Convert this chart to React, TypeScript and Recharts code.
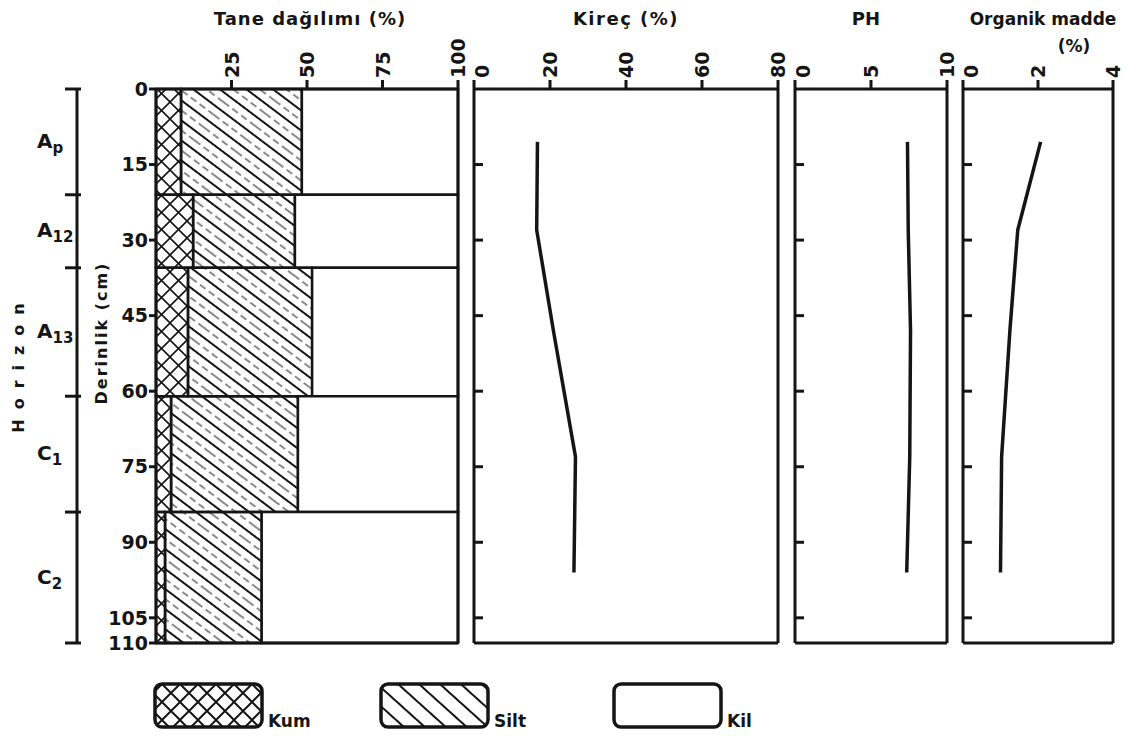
import React from "react";
import { ComposedChart, LineChart, Line, XAxis, YAxis, ReferenceArea } from "recharts";

const INK = "#151515";
const FONT = "'DejaVu Sans', 'Liberation Sans', sans-serif";

// horizons, depth in cm
const horizons = ["Ap", "A12", "A13", "C1", "C2"];
const horizonTop = [0, 21, 35.5, 61, 84];
const horizonBottom = [21, 35.5, 61, 84, 110];

// tane dağılımı (%)
const kum = [8.3, 12.3, 10.6, 5, 3];
const silt = [40, 33.7, 41.1, 42, 32];
const kil = [51.7, 54, 48.3, 53, 65];

// profile measurements
const depth = [10.5, 28, 48, 73, 96];
const kirec = [16.7, 16.5, 20.9, 26.7, 26.3];
const ph = [7.4, 7.45, 7.6, 7.55, 7.35];
const organik = [2.07, 1.46, 1.25, 1.03, 1.0];

// tick labels
const depthTicks = [0, 15, 30, 45, 60, 75, 90, 105, 110];
const innerDepthTicks = [15, 30, 45, 60, 75, 90, 105];
const taneTicks = [25, 50, 75, 100];
const kirecTicks = [0, 20, 40, 60, 80];
const phTicks = [0, 5, 10];
const organikTicks = [0, 2, 4];

const legendItems = [
  { name: "Kum", fill: "url(#kumLeg)" },
  { name: "Silt", fill: "url(#siltLeg)" },
  { name: "Kil", fill: "#fff" },
];

const texture = horizons.map((h, i) => ({
  name: h,
  top: horizonTop[i],
  bottom: horizonBottom[i],
  mid: (horizonTop[i] + horizonBottom[i]) / 2,
  kum: kum[i],
  silt: silt[i],
  kil: kil[i],
}));

const profile = depth.map((d, i) => ({
  depth: d,
  kirec: kirec[i],
  ph: ph[i],
  organik: organik[i],
}));

const horizonBounds = [...horizonTop, 110];
const horizonMids = texture.map((r) => r.mid);

const axisStyle = { stroke: INK, strokeWidth: 3 };
const tickStyle = { stroke: INK, strokeWidth: 3 };

function TopTick(props: any) {
  const { x, y, payload } = props;
  const v = payload.value;
  const tx = v === 0 ? x + 8 : x;
  return (
    <text
      x={tx}
      y={y}
      transform={`rotate(-90, ${tx}, ${y})`}
      textAnchor="start"
      dominantBaseline="central"
      fontFamily={FONT}
      fontWeight="bold"
      fontSize={19}
      fill={INK}
    >
      {v}
    </text>
  );
}

function NoTick() {
  return <g />;
}

function HorizonTick(props: any) {
  const { x, y, payload } = props;
  const idx = horizonMids.indexOf(payload.value);
  if (idx < 0) {
    return <line x1={x - 12} x2={x + 4} y1={y} y2={y} stroke={INK} strokeWidth={3} />;
  }
  const name = horizons[idx];
  return (
    <text x={x - 40} y={y + 6} fontFamily={FONT} fontWeight="bold" fill={INK}>
      <tspan fontSize={20}>{name[0]}</tspan>
      <tspan fontSize={15} dy={5}>
        {name.slice(1)}
      </tspan>
    </text>
  );
}

function LinePanel({ left, width, domain, ticks, dataKey }: any) {
  return (
    <div style={{ position: "absolute", left, top: 0 }}>
      <LineChart
        width={width}
        height={660}
        layout="vertical"
        data={profile}
        margin={{ top: 0, right: 10, bottom: 17, left: 10 }}
      >
        <XAxis
          xAxisId="top"
          orientation="top"
          type="number"
          domain={domain}
          ticks={ticks}
          interval={0}
          height={89}
          tickSize={9}
          tickMargin={2}
          axisLine={axisStyle}
          tickLine={tickStyle}
          tick={<TopTick />}
        />
        <XAxis
          xAxisId="bottom"
          orientation="bottom"
          type="number"
          domain={domain}
          mirror
          tick={false}
          tickLine={false}
          axisLine={axisStyle}
        />
        <YAxis
          yAxisId="depth"
          type="number"
          dataKey="depth"
          domain={[0, 110]}
          ticks={innerDepthTicks}
          interval={0}
          mirror
          tickSize={9}
          axisLine={axisStyle}
          tickLine={tickStyle}
          tick={<NoTick />}
        />
        <YAxis
          yAxisId="right"
          orientation="right"
          type="number"
          domain={[0, 110]}
          mirror
          tick={false}
          tickLine={false}
          axisLine={axisStyle}
        />
        <Line
          xAxisId="top"
          yAxisId="depth"
          dataKey={dataKey}
          stroke={INK}
          strokeWidth={3.5}
          strokeLinejoin="round"
          dot={false}
          isAnimationActive={false}
        />
      </LineChart>
    </div>
  );
}

export default function App() {
  const areas = texture.flatMap((r, i) => {
    const parts = [
      { x1: 0, x2: r.kum, fill: "url(#kumPat)" },
      { x1: r.kum, x2: r.kum + r.silt, fill: "url(#siltPat)" },
      { x1: r.kum + r.silt, x2: r.kum + r.silt + r.kil, fill: "#fff" },
    ];
    return parts.map((p, j) => (
      <ReferenceArea
        key={`${i}-${j}`}
        xAxisId="top"
        yAxisId="depth"
        x1={p.x1}
        x2={p.x2}
        y1={r.top}
        y2={r.bottom}
        fill={p.fill}
        fillOpacity={1}
        stroke={INK}
        strokeWidth={2.5}
        ifOverflow="visible"
      />
    ));
  });

  return (
    <div
      style={{
        position: "absolute",
        left: 0,
        top: 0,
        width: 1128,
        height: 736,
        background: "#fff",
        overflow: "hidden",
      }}
    >
      <svg width={0} height={0} style={{ position: "absolute" }}>
        <defs>
          <pattern id="kumPat" patternUnits="userSpaceOnUse" width={17} height={17}>
            <path d="M0,0 L17,17 M17,0 L0,17" stroke={INK} strokeWidth={1.6} />
          </pattern>
          <pattern
            id="siltPat"
            patternUnits="userSpaceOnUse"
            width={40}
            height={16}
            patternTransform="rotate(37)"
          >
            <line x1={0} y1={3} x2={40} y2={3} stroke={INK} strokeWidth={1.8} />
            <line x1={0} y1={11} x2={40} y2={11} stroke={INK} strokeWidth={1} strokeDasharray="7 4" />
          </pattern>
          <pattern id="kumLeg" patternUnits="userSpaceOnUse" width={18} height={18}>
            <path d="M0,0 L18,18 M18,0 L0,18" stroke={INK} strokeWidth={2} />
          </pattern>
          <pattern
            id="siltLeg"
            patternUnits="userSpaceOnUse"
            width={30}
            height={14}
            patternTransform="rotate(42)"
          >
            <line x1={0} y1={4} x2={30} y2={4} stroke={INK} strokeWidth={2} />
          </pattern>
        </defs>
      </svg>

      {/* horizon bracket */}
      <div style={{ position: "absolute", left: 0, top: 0 }}>
        <ComposedChart
          width={90}
          height={660}
          layout="vertical"
          data={texture}
          margin={{ top: 89, right: 8, bottom: 17, left: 0 }}
        >
          <XAxis type="number" domain={[0, 1]} hide />
          <YAxis
            type="number"
            dataKey="mid"
            domain={[0, 110]}
            ticks={[...horizonBounds, ...horizonMids]}
            interval={0}
            width={77}
            tickSize={0}
            tickMargin={0}
            tickLine={false}
            axisLine={axisStyle}
            tick={<HorizonTick />}
          />
          <Line dataKey={() => 0} stroke="none" dot={false} isAnimationActive={false} />
        </ComposedChart>
      </div>

      {/* Tane dağılımı */}
      <div style={{ position: "absolute", left: 0, top: 0 }}>
        <ComposedChart
          width={470}
          height={660}
          layout="vertical"
          data={texture}
          margin={{ top: 0, right: 12, bottom: 17, left: 0 }}
        >
          <XAxis
            xAxisId="top"
            orientation="top"
            type="number"
            domain={[0, 100]}
            ticks={taneTicks}
            interval={0}
            height={89}
            tickSize={9}
            tickMargin={2}
            axisLine={axisStyle}
            tickLine={tickStyle}
            tick={<TopTick />}
          />
          <XAxis
            xAxisId="bottom"
            orientation="bottom"
            type="number"
            domain={[0, 100]}
            mirror
            tick={false}
            tickLine={false}
            axisLine={axisStyle}
          />
          <YAxis
            yAxisId="depth"
            type="number"
            dataKey="mid"
            domain={[0, 110]}
            ticks={depthTicks}
            interval={0}
            width={156}
            tickSize={7}
            tickMargin={1}
            axisLine={axisStyle}
            tickLine={tickStyle}
            tick={{ fontFamily: FONT, fontWeight: "bold", fontSize: 19, fill: INK }}
          />
          <YAxis
            yAxisId="right"
            orientation="right"
            type="number"
            domain={[0, 110]}
            mirror
            tick={false}
            tickLine={false}
            axisLine={axisStyle}
          />
          {areas}
          <Line
            xAxisId="top"
            yAxisId="depth"
            dataKey="kum"
            stroke="none"
            dot={false}
            isAnimationActive={false}
          />
        </ComposedChart>
      </div>

      <LinePanel left={464} width={324} domain={[0, 80]} ticks={kirecTicks} dataKey="kirec" />
      <LinePanel left={785} width={172} domain={[0, 10]} ticks={phTicks} dataKey="ph" />
      <LinePanel left={953} width={170} domain={[0, 4]} ticks={organikTicks} dataKey="organik" />

      {/* titles, side labels and legend */}
      <svg
        width={1128}
        height={736}
        style={{ position: "absolute", left: 0, top: 0, pointerEvents: "none" }}
        fontFamily={FONT}
        fontWeight="bold"
        fill={INK}
      >
        <text x={310} y={25} fontSize={18} letterSpacing={1} textAnchor="middle">
          Tane dağılımı (%)
        </text>
        <text x={626} y={25} fontSize={18} letterSpacing={1.5} textAnchor="middle">
          Kireç (%)
        </text>
        <text x={866} y={25} fontSize={18} textAnchor="middle">
          PH
        </text>
        <text x={1043} y={25} fontSize={17} textAnchor="middle">
          Organik madde
        </text>
        <text x={1074} y={52} fontSize={17} textAnchor="middle">
          (%)
        </text>
        <text
          x={18}
          y={363}
          fontSize={16}
          letterSpacing={10}
          textAnchor="middle"
          dominantBaseline="central"
          transform="rotate(-90, 18, 363)"
        >
          Horizon
        </text>
        <text
          x={101}
          y={333}
          fontSize={16}
          letterSpacing={2}
          textAnchor="middle"
          dominantBaseline="central"
          transform="rotate(-90, 101, 333)"
        >
          Derinlik (cm)
        </text>
        {legendItems.map((item, i) => {
          const bx = [155, 381, 614][i];
          return (
            <g key={item.name}>
              <rect
                x={bx}
                y={684}
                width={107}
                height={43}
                rx={7}
                fill={item.fill}
                stroke={INK}
                strokeWidth={3.5}
              />
              <text x={bx + 113} y={727} fontSize={17}>
                {item.name}
              </text>
            </g>
          );
        })}
      </svg>
    </div>
  );
}
